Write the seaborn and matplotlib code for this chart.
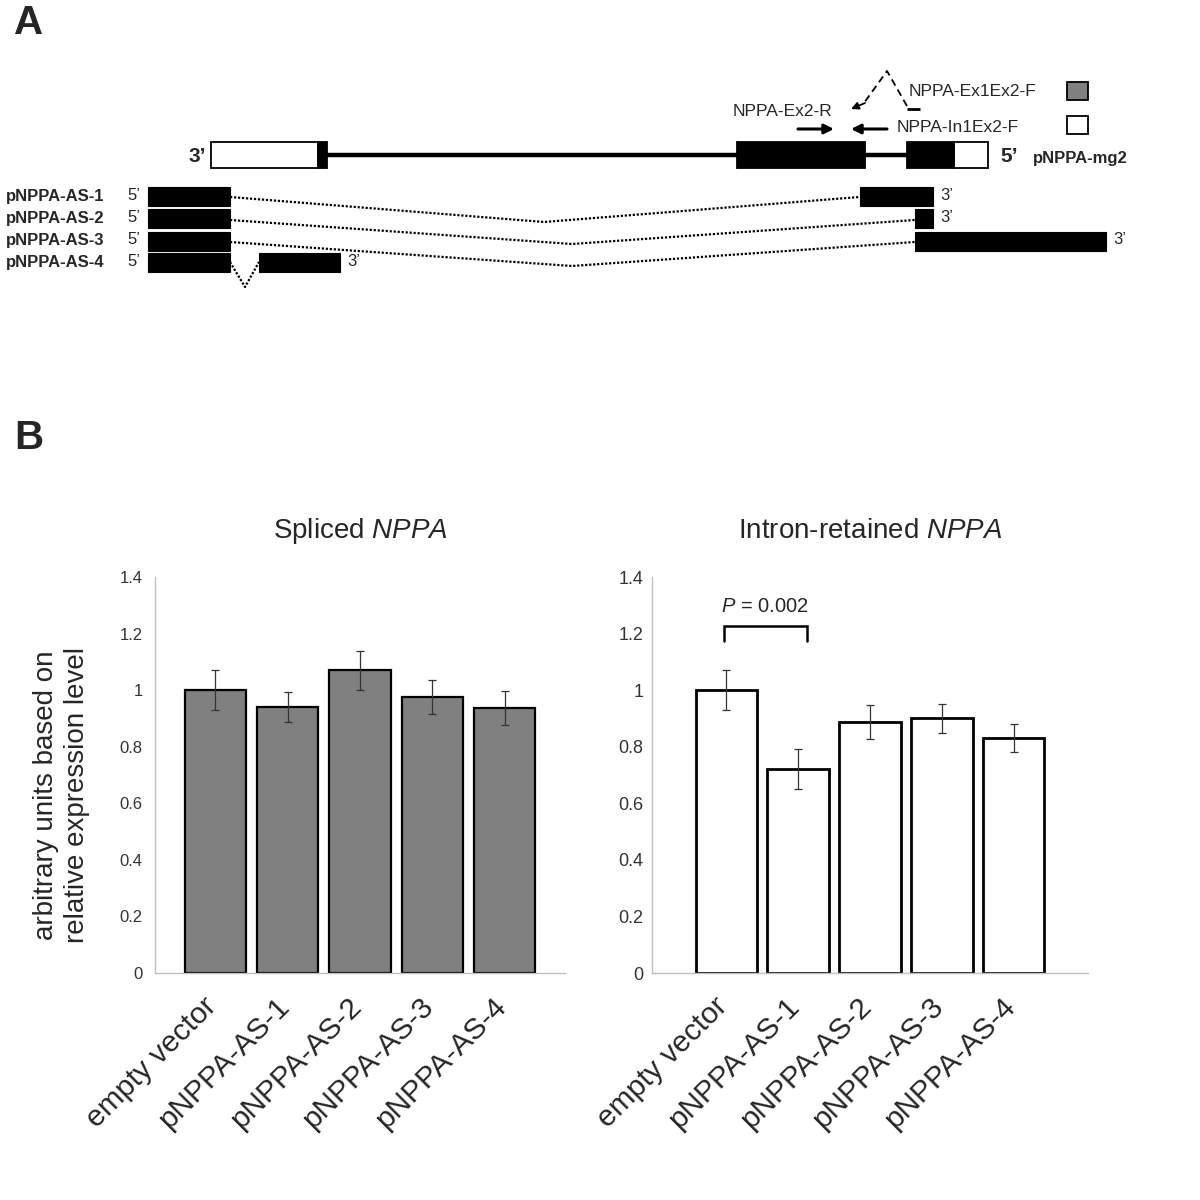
import numpy as np
import pandas as pd
import matplotlib
matplotlib.use("Agg")
import matplotlib.pyplot as plt
import matplotlib.transforms as mtransforms
from matplotlib.patches import Rectangle
import seaborn as sns

sns.set_style("white")
plt.rcParams['font.family'] = ['Liberation Sans', 'DejaVu Sans']
plt.rcParams['mathtext.fontset'] = 'custom'
plt.rcParams['mathtext.rm'] = 'Liberation Sans'
plt.rcParams['mathtext.it'] = 'Liberation Sans:italic'

# ---- data: panel B ----
constructs = ['empty vector', 'pNPPA-AS-1', 'pNPPA-AS-2', 'pNPPA-AS-3', 'pNPPA-AS-4']
spliced = [1.00, 0.94, 1.07, 0.976, 0.938]
spliced_err = [0.07, 0.052, 0.07, 0.06, 0.06]
retained = [1.00, 0.72, 0.887, 0.90, 0.83]
retained_err = [0.071, 0.071, 0.06, 0.05, 0.05]
y_ticks = [0, 0.2, 0.4, 0.6, 0.8, 1.0, 1.2, 1.4]
y_tick_labels = ['0', '0.2', '0.4', '0.6', '0.8', '1', '1.2', '1.4']
p_label = '$\\mathit{P}$ = 0.002'

# ---- data: panel A (gene diagram, pixel units) ----
gene_y = 155
exon_h = 26
gene_white = [(210.5, 318), (954, 988)]
gene_black = [(318, 327), (737, 865), (907, 954)]
gene_intron = [(327, 737), (865, 907)]

rows = ['pNPPA-AS-1', 'pNPPA-AS-2', 'pNPPA-AS-3', 'pNPPA-AS-4']
row_y = [196.5, 218, 241, 262.5]
row_blocks = [[(148, 230), (859.5, 933)],
              [(148, 230), (914.6, 933)],
              [(148, 230), (914.6, 1106)],
              [(148, 230), (259, 340)]]
row_splice_x = [[230, 544, 859.5], [230, 572, 914.6], [230, 572, 914.6], [230, 245, 259]]
row_splice_y = [[197, 222, 197], [220, 244, 220], [242, 266, 242], [262, 287, 262]]

fig = plt.figure(figsize=(12, 12), dpi=100)

# panel A drawn on a full-figure canvas
ax_a = fig.add_axes([0, 0, 1, 1])
ax_a.set_xlim(0, 1200)
ax_a.set_ylim(1200, 0)
ax_a.axis('off')

ax_a.text(29, 23, 'A', fontsize=29, fontweight='bold', ha='center', va='center')
ax_a.text(29, 438, 'B', fontsize=29, fontweight='bold', ha='center', va='center')

for x0, x1 in gene_intron:
    ax_a.plot([x0, x1], [gene_y, gene_y], color='black', lw=3.2, solid_capstyle='butt')
for x0, x1 in gene_white:
    ax_a.add_patch(Rectangle((x0, gene_y - exon_h / 2), x1 - x0, exon_h,
                             facecolor='white', edgecolor='black', lw=1.3))
for x0, x1 in gene_black:
    ax_a.add_patch(Rectangle((x0, gene_y - exon_h / 2), x1 - x0, exon_h,
                             facecolor='black', edgecolor='black', lw=1.3))
ax_a.text(197, 157, '3’', fontsize=15, fontweight='bold', ha='center', va='center')
ax_a.text(1000, 157, '5’', fontsize=15, fontweight='bold', ha='left', va='center')
ax_a.text(1080, 158, 'pNPPA-mg2', fontsize=12, fontweight='bold', ha='center', va='center')

# legend squares
ax_a.add_patch(Rectangle((1067, 82), 21, 18, facecolor='#808080', edgecolor='black', lw=1.3))
ax_a.add_patch(Rectangle((1067, 116), 21, 18, facecolor='white', edgecolor='black', lw=1.3))

# primers
ax_a.text(733, 112, 'NPPA-Ex2-R', fontsize=12.5, ha='left', va='center')
ax_a.text(897, 127, 'NPPA-In1Ex2-F', fontsize=12.5, ha='left', va='center')
ax_a.text(909, 92, 'NPPA-Ex1Ex2-F', fontsize=12.5, ha='left', va='center')
arrow_kw = dict(arrowstyle='-|>', lw=2.2, color='black', mutation_scale=14, shrinkA=0, shrinkB=0)
ax_a.annotate('', xy=(834, 129), xytext=(798, 129), arrowprops=arrow_kw)
ax_a.annotate('', xy=(851, 129), xytext=(887, 129), arrowprops=arrow_kw)
ax_a.plot([907, 920], [108.5, 108.5], color='black', lw=2.0, solid_capstyle='butt')
ax_a.plot([907, 887, 864], [106, 71, 103], color='black', lw=1.3, linestyle=(0, (4, 2.5)))
ax_a.annotate('', xy=(851, 109), xytext=(865, 103),
              arrowprops=dict(arrowstyle='-|>', lw=1.3, color='black', mutation_scale=11,
                              shrinkA=0, shrinkB=0))

# antisense constructs
for name, yc, blocks, sx, sy in zip(rows, row_y, row_blocks, row_splice_x, row_splice_y):
    ax_a.text(6, yc, name, fontsize=12, fontweight='bold', ha='left', va='center')
    ax_a.text(134, yc - 1, '5’', fontsize=12, ha='center', va='center')
    ax_a.plot(sx, sy, color='black', lw=1.6, linestyle=(0, (1, 0.8)))
    for x0, x1 in blocks:
        ax_a.add_patch(Rectangle((x0, yc - 9.5), x1 - x0, 19, facecolor='black', edgecolor='black', lw=0.8))
    ax_a.text(blocks[-1][1] + 7, yc - 1, '3’', fontsize=12, ha='left', va='center')

# ---- panel B ----
ax1 = fig.add_axes([155 / 1200, 1 - 973 / 1200, 410 / 1200, 396 / 1200])
ax2 = fig.add_axes([652 / 1200, 1 - 973 / 1200, 436 / 1200, 396 / 1200])

shift = mtransforms.ScaledTranslation(7 / 100, 0, fig.dpi_scale_trans)

panels = [
    (ax1, spliced, spliced_err, '#808080', 1.6, 'Spliced $\\mathit{NPPA}$', (-0.835, 4.835), 12, 6),
    (ax2, retained, retained_err, 'white', 2.0, 'Intron-retained $\\mathit{NPPA}$', (-1.03, 5.03), 13, 3),
]
for ax, vals, errs, fill, elw, title, xlim, ysize, ypad in panels:
    df = pd.DataFrame({'construct': constructs, 'value': vals})
    sns.barplot(data=df, x='construct', y='value', color=fill, saturation=1,
                edgecolor='black', linewidth=elw, width=0.85, errorbar=None, ax=ax, zorder=2)
    ax.errorbar(np.arange(len(constructs)), vals, yerr=errs, fmt='none', ecolor='#333333',
                elinewidth=0.9, capsize=3, capthick=0.9, zorder=3)
    ax.set_xlim(*xlim)
    ax.set_ylim(0, 1.4)
    ax.set_yticks(y_ticks)
    ax.set_yticklabels(y_tick_labels)
    ax.set_xlabel('')
    ax.set_ylabel('')
    for side in ['top', 'right']:
        ax.spines[side].set_visible(False)
    for side in ['left', 'bottom']:
        ax.spines[side].set_color('#bfbfbf')
        ax.spines[side].set_linewidth(1.0)
    ax.tick_params(axis='y', length=3, width=0.8, color='#bfbfbf', labelsize=ysize,
                   labelcolor='#333333', pad=ypad)
    ax.tick_params(axis='x', length=0, labelsize=21.5, pad=14)
    for lbl in ax.get_xticklabels():
        lbl.set_rotation(45)
        lbl.set_ha('right')
        lbl.set_transform(lbl.get_transform() + shift)
    ax.set_title(title, fontsize=20, pad=28)
    ax.patch.set_alpha(0)

# significance bracket
br_x = [-0.03, -0.03, 1.12, 1.12]
br_y = [1.172, 1.2255, 1.2255, 1.172]
ax2.plot(br_x, br_y, color='black', lw=1.8, solid_joinstyle='miter')
ax2.text(0.545, 1.297, p_label, fontsize=14.5, ha='center', va='center')

fig.text(62 / 1200, 1 - 795 / 1200, 'arbitrary units based on\nrelative expression level',
         rotation=90, ha='center', va='center', multialignment='center', fontsize=20,
         linespacing=1.25)

fig.savefig('out.png', dpi=100)
